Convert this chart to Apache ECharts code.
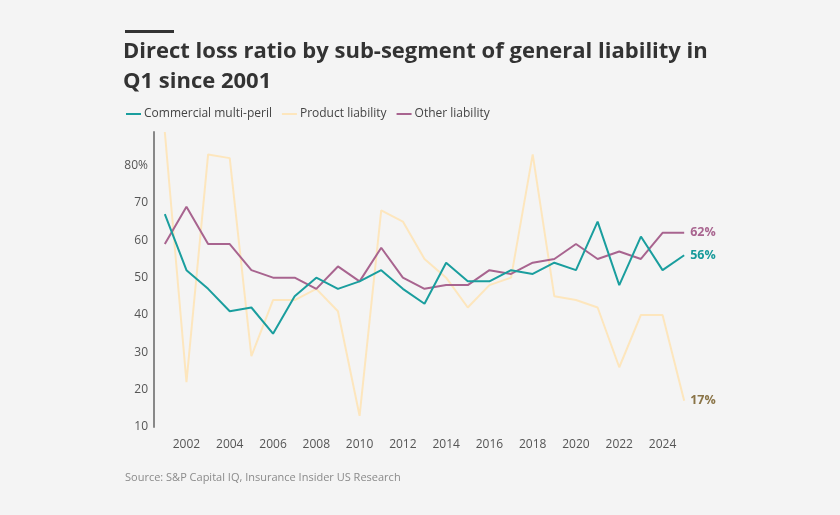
<!DOCTYPE html>
<html>
<head>
<meta charset="utf-8">
<script src="https://cdn.jsdelivr.net/npm/echarts@6/dist/echarts.min.js"></script>
<style>
html,body{margin:0;padding:0;background:#f4f4f4;}
#c{width:840px;height:515px;}
</style>
</head>
<body>
<div id="c"></div>
<script>
const years = ['2001','2002','2003','2004','2005','2006','2007','2008','2009','2010','2011','2012','2013','2014','2015','2016','2017','2018','2019','2020','2021','2022','2023','2024','2025'];
const commercialMultiPeril = [67,52,47,41,42,35,45,50,47,49,52,47,43,54,49,49,52,51,54,52,65,48,61,52,56];
const productLiability = [89,22,83,82,29,44,44,47,41,13,68,65,55,50,42,48,50,83,45,44,42,26,40,40,17];
const otherLiability = [59,69,59,59,52,50,50,47,53,49,58,50,47,48,48,52,51,54,55,59,55,57,55,62,62];
const yTicks = [10,20,30,40,50,60,70,80];

const FONT = '"Open Sans", "Noto Sans", sans-serif';
const chart = echarts.init(document.getElementById('c'));
function endLbl(color){
  return {show:true, formatter: p => p.value + '%', color: color, fontWeight:'bold', fontSize:12.5, fontFamily:FONT, distance:6};
}
chart.setOption({
  backgroundColor:'#f4f4f4',
  animation:false,
  graphic:[
    {type:'rect', left:125, top:30, shape:{width:49, height:3}, style:{fill:'#333'}},
    {type:'text', left:125, top:472, style:{text:'Source: S&P Capital IQ, Insurance Insider US Research', fill:'#8a8a8a', font:'11px '+FONT}}
  ],
  title:{
    text:'Direct loss ratio by sub-segment of general liability in\nQ1 since 2001',
    left:118, top:32,
    textStyle:{fontFamily:FONT, fontWeight:'bold', fontSize:22, color:'#333', lineHeight:30}
  },
  legend:{
    left:121, top:103,
    itemWidth:15, itemHeight:2, itemGap:10,
    icon:'rect',
    textStyle:{fontFamily:FONT, fontSize:12, color:'#444', padding:[0,0,0,-2]},
    data:['Commercial multi-peril','Product liability','Other liability']
  },
  grid:{left:154, right:145, top:132, bottom:88, containLabel:false},
  xAxis:{
    type:'category', data:years, boundaryGap:true,
    axisLine:{show:false}, axisTick:{show:false},
    axisLabel:{interval:(i)=>i%2===1, color:'#555', fontSize:12, fontFamily:FONT, margin:12}
  },
  yAxis:{
    type:'value', min:10, max:89, interval:10,
    axisLine:{show:true, lineStyle:{color:'#888', width:2}},
    axisTick:{show:false}, splitLine:{show:false},
    axisLabel:{color:'#555', fontSize:12, fontFamily:FONT, margin:6, padding:[3,0,0,0],
      formatter:v => yTicks.includes(v) ? (v===80 ? '80%' : String(v)) : ''}
  },
  series:[
    {name:'Product liability', type:'line', data:productLiability, symbol:'none', color:'#fde6bd',
      lineStyle:{width:2, color:'#fde6bd'}, endLabel:endLbl('#8a7447'), z:1},
    {name:'Other liability', type:'line', data:otherLiability, symbol:'none', color:'#a8648f',
      lineStyle:{width:2, color:'#a8648f'}, endLabel:endLbl('#a8648f'), z:2},
    {name:'Commercial multi-peril', type:'line', data:commercialMultiPeril, symbol:'none', color:'#1a9e9e',
      lineStyle:{width:2, color:'#1a9e9e'}, endLabel:endLbl('#179a9a'), z:3}
  ]
});
</script>
</body>
</html>
